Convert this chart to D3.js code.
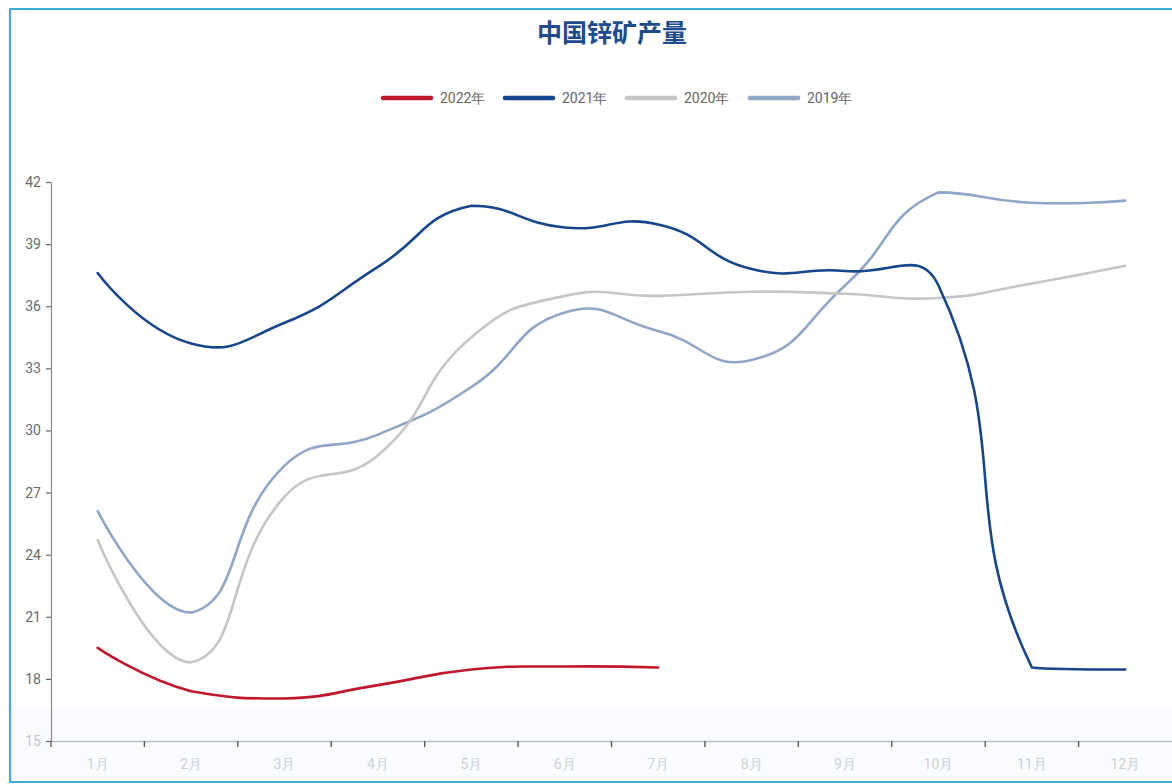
<!DOCTYPE html>
<html>
<head>
<meta charset="utf-8">
<script src="https://cdn.jsdelivr.net/npm/d3@7"></script>
<style>
  html, body { margin: 0; padding: 0; background: #ffffff; }
  svg { display: block; }
</style>
</head>
<body>
<svg id="chart" width="1172" height="784"></svg>
<script>
// ---- data ----
const months = ["1月","2月","3月","4月","5月","6月","7月","8月","9月","10月","11月","12月"];
const seriesNames = ["2022年","2021年","2020年","2019年"];
const s2022 = [19.5, 17.4, 17.05, 17.7, 18.45, 18.6, 18.55];
const s2021 = [37.6, 34.2, 35.2, 37.9, 40.85, 39.8, 39.95, 37.8, 37.7, 37.0, 18.55, 18.45];
const s2020 = [24.7, 18.8, 26.8, 28.8, 34.5, 36.5, 36.5, 36.7, 36.6, 36.4, 37.1, 37.95];
const s2019 = [26.1, 21.2, 28.3, 29.8, 32.1, 35.7, 34.8, 33.4, 37.0, 41.5, 41.0, 41.1];
const yTicks = [15, 18, 21, 24, 27, 30, 33, 36, 39, 42];
const titleText = "中国锌矿产量";

// ---- styles ----
const colors = ["#c0172b", "#16468c", "#c6c6c6", "#8fa6c9"];
const seriesData = [s2022, s2021, s2020, s2019];

const svg = d3.select("#chart");
const W = 1172, H = 784;

// light tint at bottom and outer border
svg.append("rect").attr("x", 10).attr("y", 707).attr("width", W - 10).attr("height", 74)
  .attr("fill", "#fafbfe");
svg.append("path")
  .attr("d", `M${W + 2},9 L10,9 L10,782 L${W + 2},782`)
  .attr("fill", "none").attr("stroke", "#3aaed6").attr("stroke-width", 2.2);

const x = d3.scaleBand().domain(months).range([51, 1172]).paddingInner(0).paddingOuter(0);
const y = d3.scaleLinear().domain([15, 42]).range([741, 182]);
const cx = m => x(m) + x.bandwidth() / 2;

// ---- ECharts-style smoothing curve ----
function SmoothCurve(context) { this._context = context; }
SmoothCurve.prototype = {
  areaStart() { this._line = 0; },
  areaEnd() { this._line = NaN; },
  lineStart() { this._pts = []; },
  point(px, py) { this._pts.push([+px, +py]); },
  lineEnd() {
    const c = this._context, pts = this._pts, n = pts.length, smooth = 0.5;
    if (!n) return;
    c.moveTo(pts[0][0], pts[0][1]);
    if (n === 1) return;
    const minX = d3.min(pts, p => p[0]), maxX = d3.max(pts, p => p[0]);
    const minY = d3.min(pts, p => p[1]), maxY = d3.max(pts, p => p[1]);
    const clamp = p => [Math.max(minX, Math.min(maxX, p[0])), Math.max(minY, Math.min(maxY, p[1]))];
    let cp0 = pts[0].slice();
    for (let i = 1; i < n; i++) {
      const p = pts[i], prev = pts[i - 1], next = pts[i + 1];
      let ratio = 0.5, v = [0, 0], cp1;
      if (!next) {
        cp1 = p.slice();
      } else {
        v = [next[0] - prev[0], next[1] - prev[1]];
        const lp = Math.hypot(p[0] - prev[0], p[1] - prev[1]);
        const ln = Math.hypot(next[0] - p[0], next[1] - p[1]);
        ratio = ln / (ln + lp);
        cp1 = [p[0] - v[0] * smooth * (1 - ratio), p[1] - v[1] * smooth * (1 - ratio)];
      }
      const a = clamp(cp0), b = clamp(cp1);
      c.bezierCurveTo(a[0], a[1], b[0], b[1], p[0], p[1]);
      cp0 = [p[0] + v[0] * smooth * ratio, p[1] + v[1] * smooth * ratio];
    }
  }
};
const smoothCurve = ctx => new SmoothCurve(ctx);

// ---- title ----
svg.append("text")
  .attr("x", 612).attr("y", 42)
  .attr("text-anchor", "middle")
  .attr("font-family", "'Noto Sans CJK SC', sans-serif")
  .attr("font-weight", "bold")
  .attr("font-size", 25)
  .attr("fill", "#1d4b8c")
  .text(titleText);

// ---- legend ----
const legendX = [381, 503, 625, 748];
const legend = svg.append("g");
seriesNames.forEach((name, i) => {
  const g = legend.append("g").attr("transform", `translate(${legendX[i]},98)`);
  g.append("line").attr("x1", 2).attr("x2", 50).attr("y1", 0).attr("y2", 0)
    .attr("stroke", colors[i]).attr("stroke-width", 4.5).attr("stroke-linecap", "round");
  g.append("text").attr("x", 59).attr("y", 5)
    .attr("font-family", "'Liberation Sans Narrow', 'Roboto', sans-serif")
    .attr("font-size", 14).attr("fill", "#666")
    .text(name);
});

// ---- axes ----
const yAxis = svg.append("g").attr("transform", "translate(51,0)")
  .call(d3.axisLeft(y).tickValues(yTicks).tickSize(5).tickSizeOuter(0).tickPadding(5));
yAxis.select(".domain").attr("stroke", "#8a8a8a").attr("stroke-width", 1.2);
yAxis.selectAll(".tick line").attr("stroke", "#666").attr("stroke-width", 1.2);
yAxis.selectAll(".tick text")
  .attr("font-family", "'Liberation Sans Narrow', 'Roboto', sans-serif")
  .attr("font-size", 14)
  .attr("fill", d => d === 15 ? "#c4c7cf" : "#6a6a6a");

const xAxis = svg.append("g").attr("transform", "translate(0,741)")
  .call(d3.axisBottom(x).tickSize(0).tickSizeOuter(0).tickPadding(18));
xAxis.select(".domain").attr("stroke", "#b8bcc8").attr("stroke-width", 1.5);
xAxis.selectAll(".tick text")
  .attr("font-family", "'Liberation Sans Narrow', 'Roboto', sans-serif")
  .attr("font-size", 14).attr("fill", "#cdd1dc");
// boundary ticks
xAxis.selectAll("line.bt").data(months).enter().append("line")
  .attr("class", "bt")
  .attr("x1", d => x(d)).attr("x2", d => x(d))
  .attr("y1", 0).attr("y2", 6)
  .attr("stroke", "#555").attr("stroke-width", 1.3);

// ---- lines (draw back to front: 2019, 2020, 2021, 2022) ----
const line = d3.line()
  .x((d, i) => cx(months[i]))
  .y(d => y(d))
  .curve(smoothCurve);

const order = [3, 2, 1, 0];
order.forEach(k => {
  svg.append("path")
    .datum(seriesData[k])
    .attr("d", line)
    .attr("fill", "none")
    .attr("stroke", colors[k])
    .attr("stroke-width", 2.6)
    .attr("stroke-linejoin", "round")
    .attr("stroke-linecap", "round");
});
</script>
</body>
</html>
